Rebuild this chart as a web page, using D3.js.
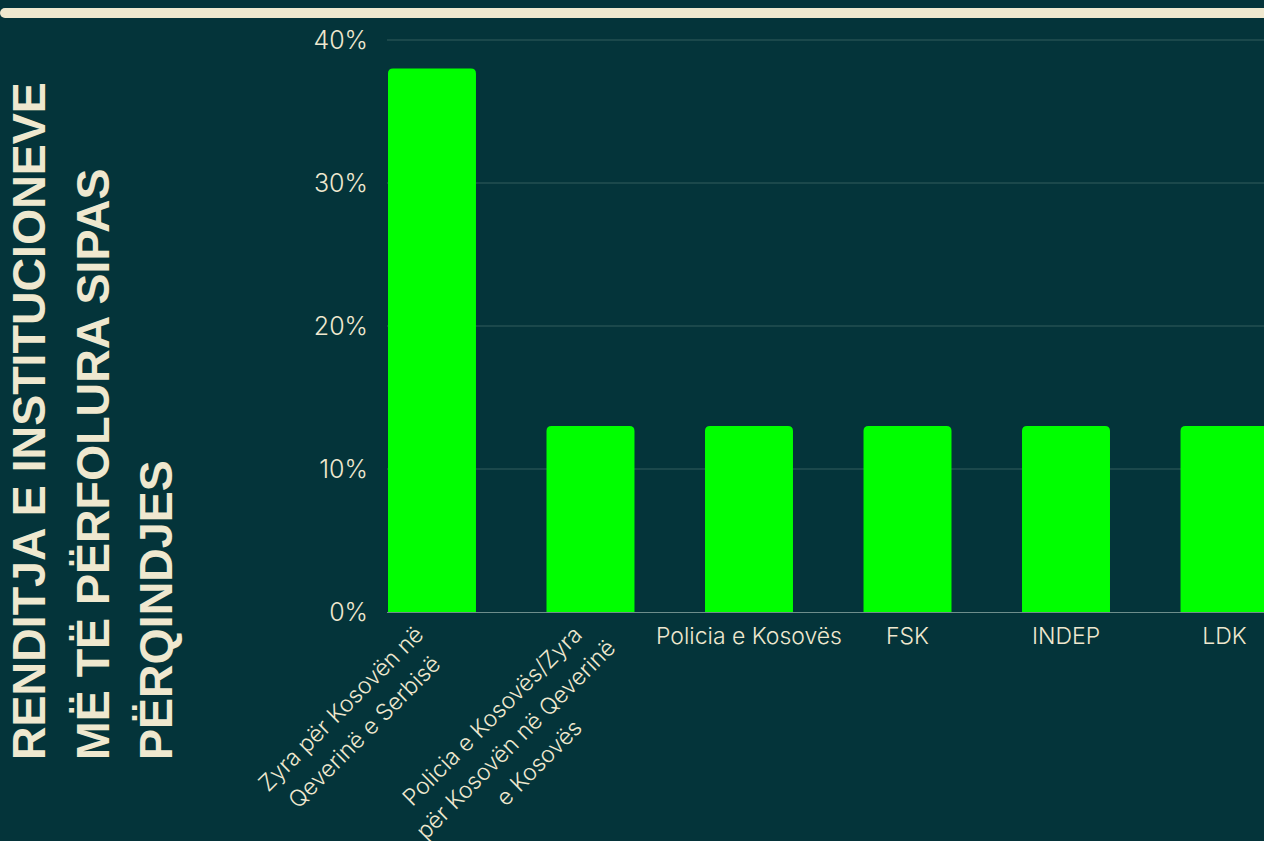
<!DOCTYPE html>
<html>
<head>
<meta charset="utf-8">
<script src="https://cdn.jsdelivr.net/npm/d3@7"></script>
<style>
  html, body { margin: 0; padding: 0; background: #04343a; overflow: hidden; }
  svg { display: block; }
</style>
</head>
<body>
<svg id="chart" width="1264" height="841"></svg>
<script>
// ---- data ----
const categories = [
  "Zyra për Kosovën në Qeverinë e Serbisë",
  "Policia e Kosovës/Zyra për Kosovën në Qeverinë e Kosovës",
  "Policia e Kosovës",
  "FSK",
  "INDEP",
  "LDK"
];
const values = [38, 13, 13, 13, 13, 13];
const yTicks = [0, 10, 20, 30, 40];
const titleLines = ["RENDITJA E INSTITUCIONEVE", "MË TË PËRFOLURA SIPAS", "PËRQINDJES"];

// ---- style ----
const BG = "#04343a", CREAM = "#efe8cf", GREEN = "#00ff00";
const FONT = "Inter, 'Liberation Sans', sans-serif";

const svg = d3.select("#chart");
svg.append("rect").attr("width", 1264).attr("height", 841).attr("fill", BG);

// top rule
svg.append("rect").attr("x", 0).attr("y", 8).attr("width", 1280).attr("height", 10)
  .attr("rx", 5).attr("fill", CREAM);

// title (vertical)
const title = svg.append("g").attr("transform", "translate(45,760) rotate(-90)");
titleLines.forEach((t, i) => {
  title.append("text").attr("x", 0).attr("y", i * 63.5)
    .attr("font-family", "'Liberation Sans', Arial, sans-serif")
    .attr("font-weight", 700).attr("font-size", 46.5)
    .attr("fill", CREAM).text(t);
});

// scales
const x = d3.scaleBand().domain(categories).range([388, 1268.5])
  .paddingInner(0.445).paddingOuter(0);
const y = d3.scaleLinear().domain([0, 40]).range([612, 40]);

// grid
svg.append("g").selectAll("line").data(yTicks.filter(d => d > 0)).join("line")
  .attr("x1", 387).attr("x2", 1264)
  .attr("y1", d => y(d)).attr("y2", d => y(d))
  .attr("stroke", "#325c5c").attr("stroke-width", 1);

// y labels
const yAxis = svg.append("g").attr("transform", "translate(368,0)")
  .call(d3.axisLeft(y).tickValues(yTicks).tickFormat(d => d + "%").tickSize(0).tickPadding(0));
yAxis.select(".domain").remove();
yAxis.selectAll("text").attr("font-family", FONT).attr("font-weight", 300)
  .attr("font-size", 25).attr("fill", CREAM).attr("dy", "0.35em");

// bars with rounded top corners
const r = 5;
svg.append("g").selectAll("path").data(values).join("path")
  .attr("fill", GREEN)
  .attr("d", (d, i) => {
    const x0 = x(categories[i]), w = x.bandwidth(), y0 = y(d), yb = y(0);
    return `M${x0},${yb} V${y0 + r} Q${x0},${y0} ${x0 + r},${y0} H${x0 + w - r} Q${x0 + w},${y0} ${x0 + w},${y0 + r} V${yb} Z`;
  });

// baseline
svg.append("line").attr("x1", 387).attr("x2", 1264).attr("y1", 612.5).attr("y2", 612.5)
  .attr("stroke", "#6e8e8c").attr("stroke-width", 1);

// x labels
function wrap(s, maxChars) {
  const words = s.split(" "), lines = [];
  let cur = "";
  words.forEach(w => {
    const test = cur ? cur + " " + w : w;
    if (test.length > maxChars && cur) { lines.push(cur); cur = w; } else cur = test;
  });
  if (cur) lines.push(cur);
  return lines;
}

const xl = svg.append("g");
categories.forEach((c, i) => {
  const cx = x(c) + x.bandwidth() / 2;
  if (c.length > 20) {
    const lines = wrap(c, 23);
    const g = xl.append("g").attr("transform", `translate(${cx - 7},${612 + 24}) rotate(-45)`);
    const texts = lines.map((l, j) => g.append("text")
      .attr("y", j * 33).attr("text-anchor", "middle")
      .attr("font-family", FONT).attr("font-weight", 300).attr("font-size", 23)
      .attr("fill", CREAM).text(l));
    const W1 = texts[0].node().getComputedTextLength();
    texts.forEach(t => t.attr("x", -W1 / 2));
  } else {
    xl.append("text").attr("x", cx).attr("y", 644).attr("text-anchor", "middle")
      .attr("font-family", FONT).attr("font-weight", 300).attr("font-size", 23)
      .attr("fill", CREAM).text(c);
  }
});
</script>
</body>
</html>
